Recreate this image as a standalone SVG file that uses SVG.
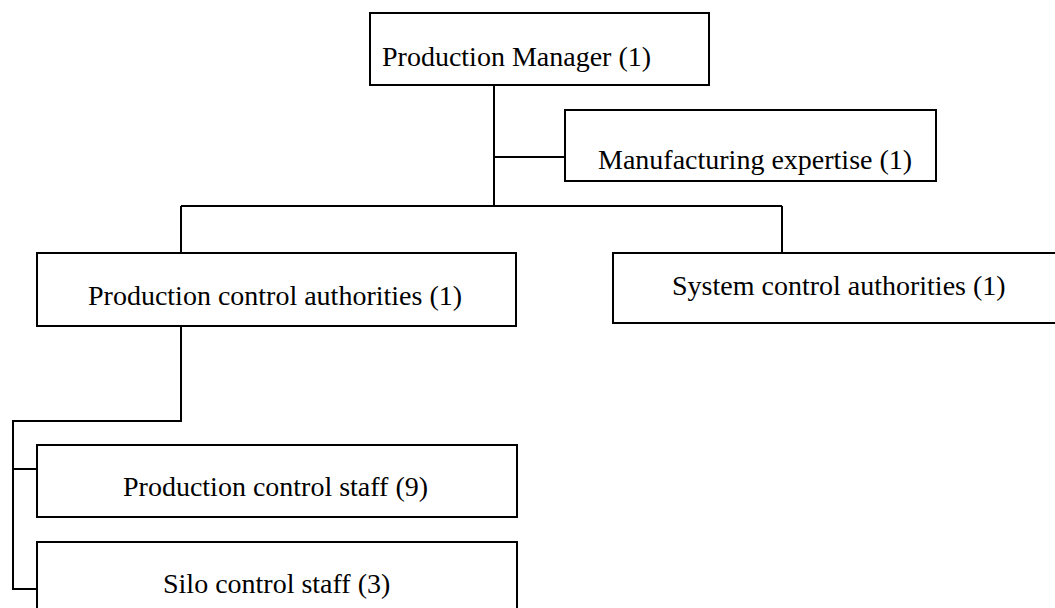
<svg xmlns="http://www.w3.org/2000/svg" width="1055" height="608" viewBox="0 0 1055 608">
<style>
.box{fill:#fff;stroke:#000;stroke-width:2}
.lbl{font-family:"Liberation Serif","Times New Roman",serif;font-size:28px;fill:#000}
.conn{fill:none;stroke:#000;stroke-width:2}
</style>
<rect width="1055" height="608" fill="#fff"/>
<g id="connectors" class="conn">
<path d="M494,85 V206"/>
<path d="M494,157 H565"/>
<path d="M181,206 H782"/>
<path d="M181,206 V253"/>
<path d="M782,206 V253"/>
<path d="M181,326 V421 H13 V589 H37"/>
<path d="M13,469 H37"/>
</g>
<g id="production-manager">
<rect class="box" x="370" y="13" width="339" height="72"/>
<text class="lbl" x="382" y="66">Production Manager (1)</text>
</g>
<g id="manufacturing-expertise">
<rect class="box" x="565" y="110" width="371" height="71"/>
<text class="lbl" x="598" y="169">Manufacturing expertise (1)</text>
</g>
<g id="production-control-authorities">
<rect class="box" x="37" y="253" width="479" height="73"/>
<text class="lbl" x="88" y="305">Production control authorities (1)</text>
</g>
<g id="system-control-authorities">
<rect class="box" x="613" y="253" width="460" height="70"/>
<text class="lbl" x="672" y="295">System control authorities (1)</text>
</g>
<g id="production-control-staff">
<rect class="box" x="37" y="445" width="480" height="72"/>
<text class="lbl" x="123" y="496">Production control staff (9)</text>
</g>
<g id="silo-control-staff">
<rect class="box" x="37" y="542" width="480" height="80"/>
<text class="lbl" x="163" y="593">Silo control staff (3)</text>
</g>
</svg>
